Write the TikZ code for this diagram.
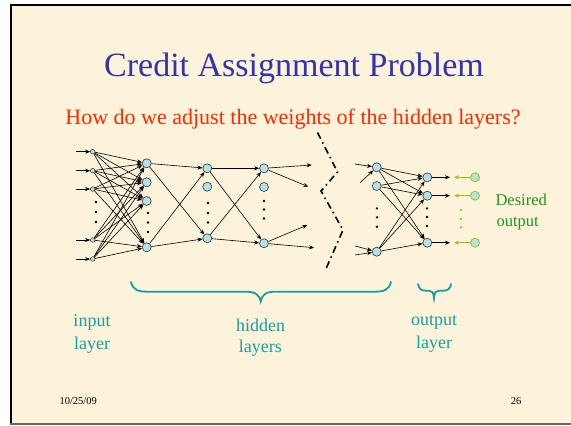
\documentclass[tikz,border=0pt]{standalone}
\usepackage{fontspec}
\setmainfont{Liberation Serif}
\usetikzlibrary{arrows.meta}
\definecolor{paper}{RGB}{253,243,218}
\definecolor{titleblue}{RGB}{51,51,170}
\definecolor{subred}{RGB}{255,40,0}
\definecolor{teal2}{RGB}{20,160,160}
\definecolor{nodefill}{RGB}{180,225,232}
\definecolor{lgreen}{RGB}{150,200,0}
\definecolor{dgreen}{RGB}{30,150,30}
\tikzset{
  big/.style={circle,draw=black!80,fill=nodefill,line width=0.6pt,inner sep=0pt,minimum size=9pt},
  small/.style={circle,draw=black!80,fill=nodefill,line width=0.5pt,inner sep=0pt,minimum size=4.6pt},
  goal/.style={circle,draw=lgreen,fill=nodefill,line width=0.8pt,inner sep=0pt,minimum size=9pt},
  bdot/.style={circle,fill=black,inner sep=0pt,minimum size=2.6pt},
  gdot/.style={circle,fill=lgreen,inner sep=0pt,minimum size=2.6pt},
  wire/.style={line width=0.6pt,-{Stealth[length=5pt,width=4pt]}},
  gwire/.style={line width=0.9pt,draw=lgreen,-{Stealth[length=5pt,width=4pt]}},
  lbl/.style={text=teal2,font=\fontsize{18}{20}\selectfont,anchor=base},
  brace/.style={draw=teal2,line width=1.8pt,line cap=round}
}
\begin{document}
\begin{tikzpicture}[x=1pt,y=-1pt]
\useasboundingbox (0,0) rectangle (571,426);
\fill[white] (0,0) rectangle (571,426);
\fill[paper] (11,5) rectangle (571,424);
\draw[black,line width=2.5pt] (11,424) -- (11,4);
\draw[black,line width=2pt] (10,4.5) -- (571,4.5);
\draw[black!60,line width=2pt] (10,424) -- (571,424);

% title
\node[anchor=base,text=titleblue,font=\fontsize{34}{38}\selectfont] (title) at (294,76) {Credit Assignment Problem};
\node[anchor=base,text=subred,font=\fontsize{22}{24}\selectfont] (sub) at (293,124) {How do we adjust the weights of the hidden layers?};

% input layer
\foreach \n/\y in {1/151.7,2/170.7,3/189,4/240,5/259}{
  \node[small] (i\n) at (92.7,\y) {};
  \coordinate (s\n) at (76,\y);
  \draw[wire] (s\n) -- (i\n);
}
\foreach \y [count=\k] in {202,212,222} \node[bdot] (idot\k) at (96,\y) {};

% hidden 1
\foreach \n/\y in {a/163.3,b/182.3,c/201,d/247.3} \node[big] (h1\n) at (146.7,\y) {};
\foreach \y [count=\k] in {213,222.5,232} \node[bdot] (h1dot\k) at (148,\y) {};
\foreach \i in {1,...,5}{\foreach \n in {a,b,c,d} \draw[wire] (i\i) -- (h1\n);}

% hidden 2
\foreach \n/\y in {a/168.3,b/186.7,c/238.3} \node[big] (h2\n) at (207.3,\y) {};
\foreach \y [count=\k] in {203,213,222.5} \node[bdot] (h2dot\k) at (208,\y) {};
\foreach \s in {a,d}{\foreach \t in {a,c} \draw[wire] (h1\s) -- (h2\t);}

% hidden 3
\foreach \n/\y in {a/168.3,b/187,c/243.3} \node[big] (h3\n) at (264,\y) {};
\foreach \y [count=\k] in {201,209.5,218.5} \node[bdot] (h3dot\k) at (264,\y) {};
\foreach \s in {a,c}{\foreach \t in {a,c} \draw[wire] (h2\s) -- (h3\t);}
\coordinate (t1) at (311.7,165);
\coordinate (t2) at (308.3,186.7);
\coordinate (t3) at (307.3,225);
\coordinate (t4) at (314,247.7);
\draw[wire] (h3a) -- (t1);
\draw[wire] (h3a) -- (t2);
\draw[wire] (h3c) -- (t3);
\draw[wire] (h3c) -- (t4);

% dash-dot zigzag
\coordinate (z1) at (317.5,132.5);
\coordinate (z2) at (337.5,172);
\coordinate (z3) at (321,191);
\coordinate (z4) at (343,230);
\coordinate (z5) at (325,271);
\draw[line width=1.6pt,dash pattern=on 7pt off 4pt on 1.5pt off 4pt] (z1) -- (z2) -- (z3) -- (z4) -- (z5);

% hidden 4
\foreach \n/\y in {a/167.3,b/186,c/251.7} \node[big] (h4\n) at (376.7,\y) {};
\foreach \y [count=\k] in {208.3,217.3,226.7} \node[bdot] (h4dot\k) at (377,\y) {};
\coordinate (u1) at (355,164);
\coordinate (u2) at (360,182.7);
\coordinate (u3) at (355,246);
\coordinate (u4) at (355,255);
\draw[wire] (u1) -- (h4a);
\draw[wire] (u2) -- (h4a);
\draw[wire] (u3) -- (h4c);
\draw[wire] (u4) -- (h4c);

% output layer
\foreach \n/\y in {a/177.3,b/195.7,c/242.7}{
  \node[big] (o\n) at (427.3,\y) {};
  \coordinate (oe\n) at (450,\y);
  \draw[wire] (o\n) -- (oe\n);
  \node[goal] (d\n) at (475,\y) {};
  \coordinate (ge\n) at (454,\y);
  \draw[gwire] (d\n) -- (ge\n);
}
\foreach \y [count=\k] in {208.3,217,226} \node[bdot] (odot\k) at (427,\y) {};
\foreach \y [count=\k] in {210,219,227.3} \node[gdot] (gdot\k) at (461,\y) {};
\foreach \s in {a,b,c}{\foreach \t in {a,b,c} \draw[wire] (h4\s) -- (o\t);}

\node[anchor=base west,text=dgreen,font=\fontsize{16.5}{18}\selectfont] (des1) at (492,205) {Desired};
\node[anchor=base west,text=dgreen,font=\fontsize{16.5}{18}\selectfont] (des2) at (493,226) {output};

% braces
\draw[brace] (131,282) .. controls (133,290) and (138,291.7) .. (148,291.7) -- (245,291.7) .. controls (255,291.7) and (259,294) .. (260.7,301.5) .. controls (262.5,294) and (266,291.7) .. (276,291.7) -- (374,291.7) .. controls (384,291.7) and (389,290) .. (391,282);
\draw[brace] (418,284) .. controls (419,289) and (421,290.7) .. (426,290.7) -- (429,290.7) .. controls (432,290.7) and (433.5,292) .. (434,298.3) .. controls (434.5,292) and (436,290.7) .. (439,290.7) -- (443,290.7) .. controls (448,290.7) and (450,289) .. (451,284);

% layer labels
\node[lbl] (in1) at (92,326.5) {input};
\node[lbl] (in2) at (92,349) {layer};
\node[lbl] (hi1) at (260.5,331.5) {hidden};
\node[lbl] (hi2) at (260.3,352.5) {layers};
\node[lbl] (ou1) at (434,325) {output};
\node[lbl] (ou2) at (434,348.5) {layer};

% footer
\node[anchor=base west,font=\fontsize{10.5}{12}\selectfont] (date) at (56,404) {10/25/09};
\node[anchor=base east,font=\fontsize{10.5}{12}\selectfont] (page) at (525,404) {26};
\end{tikzpicture}
\end{document}
